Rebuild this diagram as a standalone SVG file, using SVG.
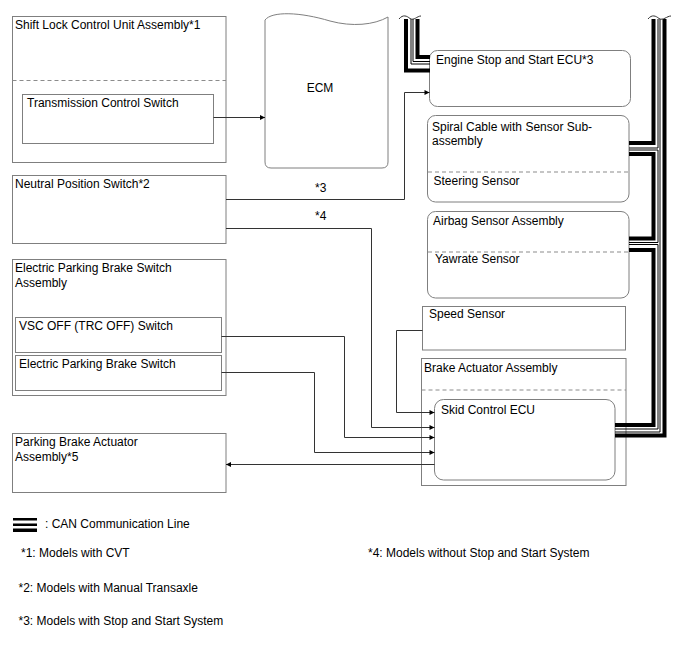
<svg xmlns="http://www.w3.org/2000/svg" width="688" height="658" viewBox="0 0 688 658">
<defs>
<style>
.box{fill:#fff;stroke:#7f7f7f;stroke-width:1}
.dash{fill:none;stroke:#8c8c8c;stroke-width:1.2;stroke-dasharray:4 3}
.ln{fill:none;stroke:#333;stroke-width:1}
.ck{fill:none;stroke:#000;stroke-width:4;stroke-linejoin:miter}
.cn{fill:none;stroke:#000;stroke-width:1;stroke-linejoin:miter}
.brk{fill:none;stroke:#333;stroke-width:1}
text{font-family:"Liberation Sans",Arial,sans-serif;font-size:12px;fill:#000}
</style>
<marker id="ah" viewBox="0 0 10 10" refX="10" refY="5" markerWidth="9" markerHeight="5" markerUnits="userSpaceOnUse" orient="auto">
<path d="M0,0 L10,5 L0,10 z" fill="#000"/>
</marker>
</defs>
<rect width="688" height="658" fill="#fff"/>

<g id="shift-lock">
<rect class="box" x="12.5" y="16.5" width="213.5" height="146"/>
<text x="15" y="29">Shift Lock Control Unit Assembly*1</text>
<line class="dash" x1="12.5" y1="80.5" x2="226" y2="80.5"/>
<g id="transmission-control-switch">
<rect class="box" x="22.5" y="94.5" width="191" height="49"/>
<text x="27" y="107">Transmission Control Switch</text>
</g>
</g>

<g id="ecm">
<path class="box" d="M265,20 C272,11 300,12 330,21 C352,27 374,25 388,17 V162 Q388,168 382,168 H271 Q265,168 265,162 Z"/>
<text x="320" y="92" text-anchor="middle">ECM</text>
</g>

<g id="neutral-position-switch">
<rect class="box" x="12.5" y="175.5" width="213.5" height="68"/>
<text x="15" y="188">Neutral Position Switch*2</text>
</g>

<g id="epb-switch-assembly">
<rect class="box" x="12.5" y="259.5" width="213.5" height="136"/>
<text x="15" y="272">Electric Parking Brake Switch</text>
<text x="15" y="287">Assembly</text>
<g id="vsc-off-switch">
<rect class="box" x="15.5" y="317.5" width="206" height="35"/>
<text x="19" y="330">VSC OFF (TRC OFF) Switch</text>
</g>
<g id="epb-switch">
<rect class="box" x="15.5" y="355.5" width="206" height="35"/>
<text x="19" y="368">Electric Parking Brake Switch</text>
</g>
</g>

<g id="parking-brake-actuator">
<rect class="box" x="12.5" y="433.5" width="213.5" height="59"/>
<text x="15" y="446">Parking Brake Actuator</text>
<text x="15" y="461">Assembly*5</text>
</g>

<g id="engine-stop-start-ecu">
<rect class="box" x="429.5" y="50.5" width="201" height="56" rx="8"/>
<text x="436" y="64">Engine Stop and Start ECU*3</text>
</g>

<g id="spiral-cable">
<rect class="box" x="427.5" y="115.5" width="201.5" height="86.5" rx="8"/>
<text x="432" y="131">Spiral Cable with Sensor Sub-</text>
<text x="432" y="145">assembly</text>
<line class="dash" x1="428" y1="172" x2="629" y2="172"/>
<text x="433.5" y="185">Steering Sensor</text>
</g>

<g id="airbag-sensor">
<rect class="box" x="427.5" y="211.5" width="201.5" height="86.5" rx="8"/>
<text x="433" y="225">Airbag Sensor Assembly</text>
<line class="dash" x1="428" y1="252" x2="629" y2="252"/>
<text x="435" y="263">Yawrate Sensor</text>
</g>

<g id="speed-sensor">
<rect class="box" x="422.5" y="306.5" width="203" height="43.5"/>
<text x="429" y="318">Speed Sensor</text>
</g>

<g id="brake-actuator">
<rect class="box" x="421.5" y="358.5" width="204.5" height="127"/>
<text x="424" y="372">Brake Actuator Assembly</text>
<line class="dash" x1="421.5" y1="390" x2="626" y2="390"/>
<g id="skid-control-ecu">
<rect class="box" x="434.5" y="399.5" width="180.5" height="80.5" rx="9"/>
<text x="441" y="414">Skid Control ECU</text>
</g>
</g>

<g id="connectors">
<path class="ln" d="M213.5,117.5 H265" marker-end="url(#ah)"/>
<path class="ln" d="M226,199.5 H404.5 V92.5 H429.5" marker-end="url(#ah)"/>
<path class="ln" d="M226,228.5 H371.5 V427.5 H434.5" marker-end="url(#ah)"/>
<path class="ln" d="M221.5,336.5 H344.5 V437.5 H434.5" marker-end="url(#ah)"/>
<path class="ln" d="M221.5,372.5 H314.5 V452.5 H434.5" marker-end="url(#ah)"/>
<path class="ln" d="M422.5,330.5 H396.5 V412.5 H434.5" marker-end="url(#ah)"/>
<path class="ln" d="M434.5,464.5 H226" marker-end="url(#ah)"/>
<text x="315" y="192">*3</text>
<text x="315" y="220">*4</text>

<g id="can-lines">
<!-- stub to Engine Stop and Start ECU -->
<path class="ck" d="M406,19 V70.5 H430"/>
<path class="cn" d="M411,19 V64 H430"/>
<path class="cn" d="M413,19 V61.5 H430"/>
<path class="ck" d="M417.5,19 V57 H430"/>
<path class="brk" d="M399,19 C403,14 407,16 410,18.5 C414,21 417,16 421,16"/>
<!-- main bus -->
<path class="ck" d="M653.5,19 V143 H629"/>
<path class="ck" d="M629,154 H653.5 V238.5 H629"/>
<path class="ck" d="M629,250 H653.5 V425 H615"/>
<path class="cn" d="M658,19 V148 H629"/>
<path class="cn" d="M629,150 H658 V242.5 H629"/>
<path class="cn" d="M629,244.5 H658 V429 H615"/>
<path class="cn" d="M660,19 V432 H615"/>
<path class="ck" d="M664.5,19 V435.5 H615"/>
<path class="brk" d="M648,19 C652,14 656,16 659,18.5 C663,21 667,16 671,16"/>
</g>
</g>

<g id="legend">
<rect x="13" y="518" width="24" height="2.5" fill="#000"/>
<rect x="13" y="523.5" width="24" height="2.5" fill="#000"/>
<rect x="13" y="528.5" width="24" height="3.5" fill="#000"/>
<text x="45" y="528">: CAN Communication Line</text>
<text x="21" y="557">*1: Models with CVT</text>
<text x="368" y="557">*4: Models without Stop and Start System</text>
<text x="18.5" y="592">*2: Models with Manual Transaxle</text>
<text x="18.5" y="625">*3: Models with Stop and Start System</text>
</g>
</svg>
